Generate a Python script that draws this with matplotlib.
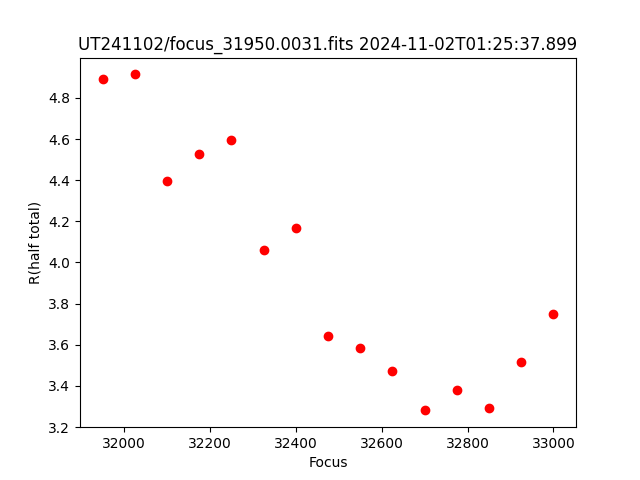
import numpy as np
import matplotlib
matplotlib.use("Agg")
import matplotlib.pyplot as plt

# focus positions and measured half-total radius
focus = [31950, 32025, 32100, 32175, 32250, 32325, 32400, 32475,
         32550, 32625, 32700, 32775, 32850, 32925, 33000]
rhalf = [4.893, 4.914, 4.396, 4.528, 4.597, 4.062, 4.168, 3.643,
         3.583, 3.472, 3.281, 3.379, 3.292, 3.516, 3.750]

title = "UT241102/focus_31950.0031.fits 2024-11-02T01:25:37.899"

fig = plt.figure(figsize=(6.4, 4.8), dpi=100)
plt.plot(focus, rhalf, 'ro')
plt.xlabel("Focus")
plt.ylabel("R(half total)")
plt.title(title)
plt.savefig("out.png")
